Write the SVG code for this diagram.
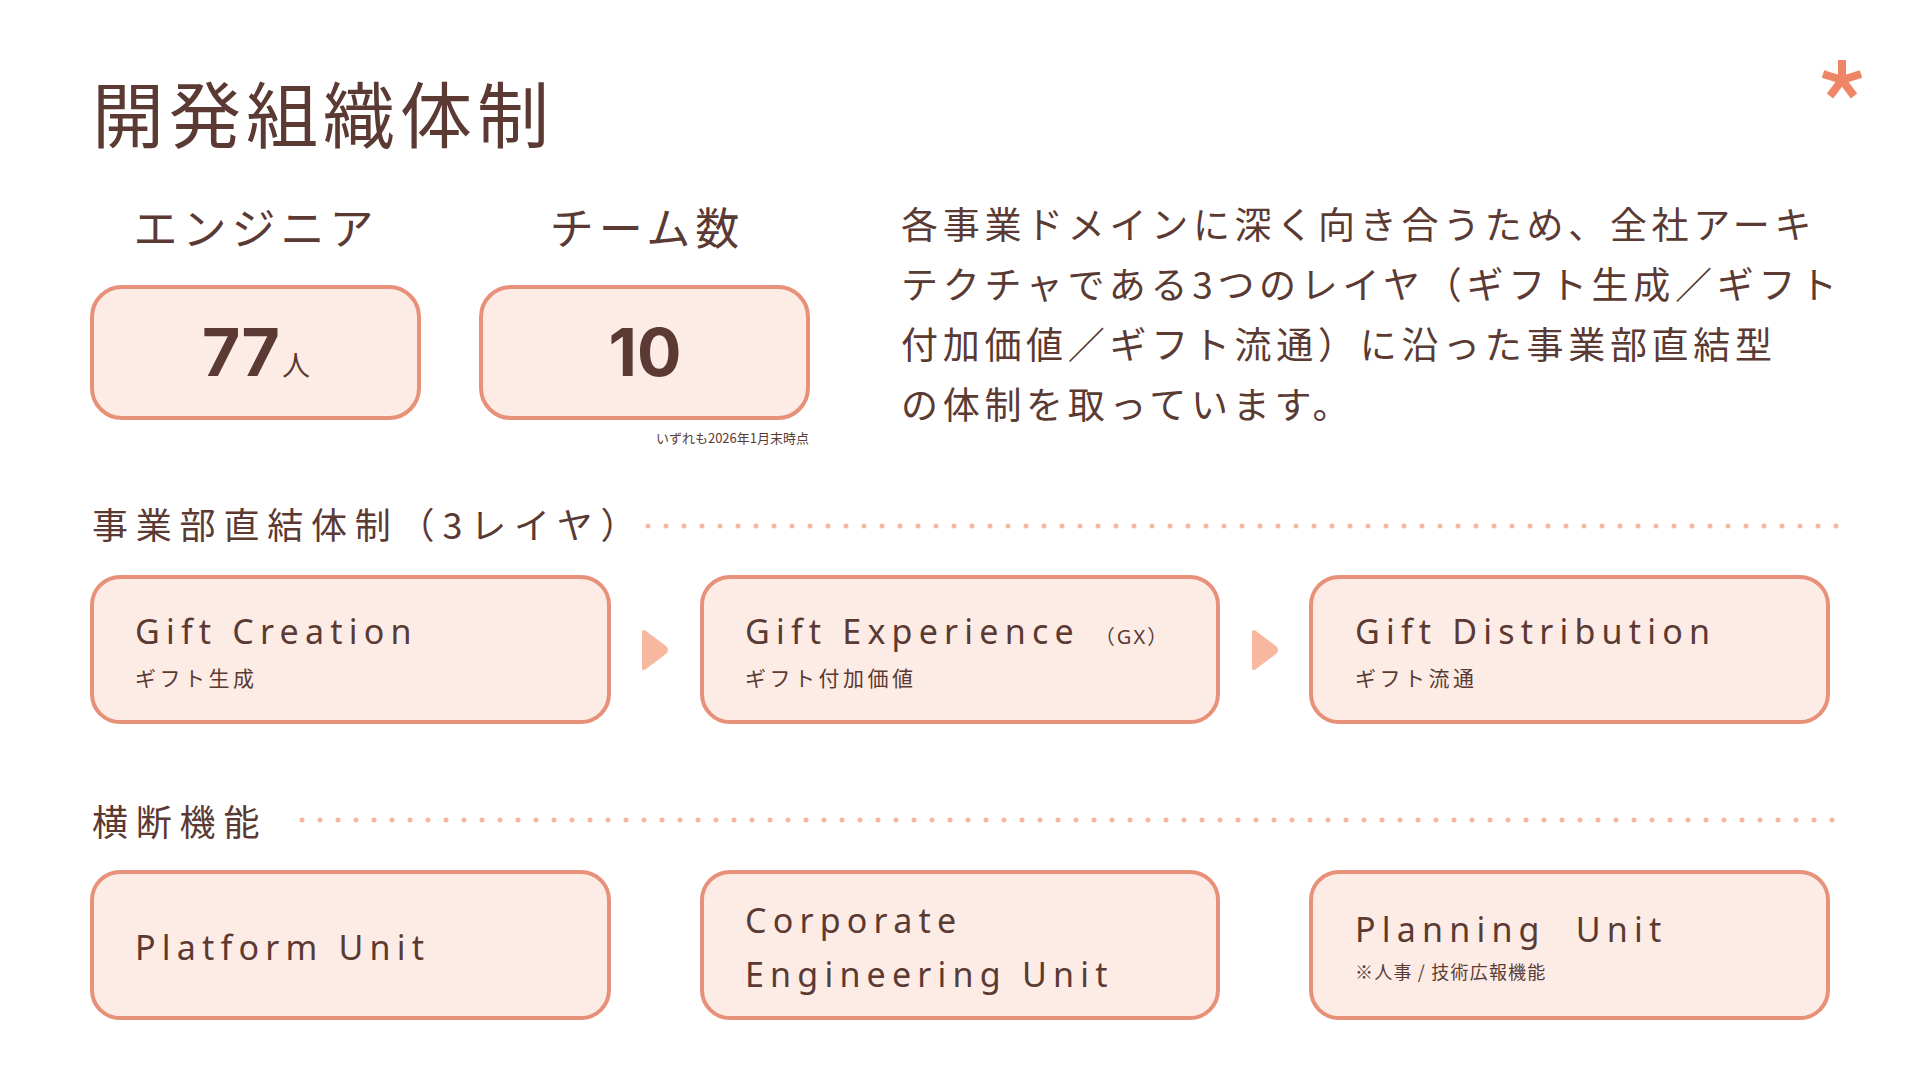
<svg xmlns="http://www.w3.org/2000/svg" width="1920" height="1080" viewBox="0 0 1920 1080">
  <style>
    .jp { font-family: "Noto Sans CJK JP", "Noto Sans", sans-serif; fill: #5A3A32; }
    .en { font-family: "Noto Sans", "Noto Sans CJK JP", sans-serif; fill: #5A3A32; }
    .num { font-family: Inter, "Noto Sans", sans-serif; font-weight: 700; fill: #5A3A32; }
    .box { fill: #FDECE6; stroke: #E8917A; stroke-width: 4; }
    .dots { stroke: #F3B7A2; stroke-width: 5; stroke-linecap: round; stroke-dasharray: 0 18; fill: none; }
    .arrow { fill: #F8B8A0; }
    .lbl { font-size: 34px; letter-spacing: 6.2px; }
    .sub { font-size: 21px; letter-spacing: 3.5px; }
  </style>
  <rect width="1920" height="1080" fill="#FFFFFF"/>

  <!-- asterisk logo -->
  <g id="logo" stroke="#EF8567" stroke-width="8" fill="none">
    <line x1="1842" y1="80" x2="1842" y2="60"/>
    <line x1="1842" y1="80" x2="1861" y2="74"/>
    <line x1="1842" y1="80" x2="1854" y2="96"/>
    <line x1="1842" y1="80" x2="1830" y2="96"/>
    <line x1="1842" y1="80" x2="1823" y2="74"/>
  </g>

  <g id="title">
    <text class="jp" x="92" y="142" font-size="72" letter-spacing="5">開発組織体制</text>
  </g>

  <g id="engineers">
    <text class="jp" x="256" y="245" font-size="44" letter-spacing="5" text-anchor="middle">エンジニア</text>
    <rect class="box" x="92" y="287" width="327" height="131" rx="30"/>
    <text x="256" y="376" text-anchor="middle"><tspan class="num" font-size="66">77</tspan><tspan class="jp" font-size="28" dx="2">人</tspan></text>
  </g>

  <g id="teams">
    <text class="jp" x="647" y="245" font-size="44" letter-spacing="5" text-anchor="middle">チーム数</text>
    <rect class="box" x="481" y="287" width="327" height="131" rx="30"/>
    <text class="num" x="645" y="376" font-size="66" text-anchor="middle">10</text>
  </g>

  <g id="note">
    <text class="jp" x="809" y="443" font-size="13" text-anchor="end">いずれも2026年1月末時点</text>
  </g>

  <g id="description" class="jp" font-size="37" letter-spacing="4.7">
    <text x="901" y="239">各事業ドメインに深く向き合うため、全社アーキ</text>
    <text x="901" y="299">テクチャである3つのレイヤ（ギフト生成／ギフト</text>
    <text x="901" y="359">付加価値／ギフト流通）に沿った事業部直結型</text>
    <text x="901" y="419">の体制を取っています。</text>
  </g>

  <g id="section1">
    <text class="jp" x="92" y="539" font-size="36" letter-spacing="7.8">事業部直結体制（3レイヤ）</text>
  </g>
  <g id="section2">
    <text class="jp" x="92" y="836" font-size="36" letter-spacing="7.8">横断機能</text>
  </g>

  <g id="gift-creation">
    <rect class="box" x="92" y="577" width="517" height="145" rx="28"/>
    <text class="en lbl" x="135" y="644">Gift Creation</text>
    <text class="jp sub" x="135" y="686">ギフト生成</text>
  </g>
  <g id="gift-experience">
    <rect class="box" x="702" y="577" width="516" height="145" rx="28"/>
    <text class="en lbl" x="745" y="644">Gift Experience <tspan font-size="20" letter-spacing="2">（GX）</tspan></text>
    <text class="jp sub" x="745" y="686">ギフト付加価値</text>
  </g>
  <g id="gift-distribution">
    <rect class="box" x="1311" y="577" width="517" height="145" rx="28"/>
    <text class="en lbl" x="1355" y="644">Gift Distribution</text>
    <text class="jp sub" x="1355" y="686">ギフト流通</text>
  </g>

  <g id="platform-unit">
    <rect class="box" x="92" y="872" width="517" height="146" rx="28"/>
    <text class="en lbl" x="135" y="960">Platform Unit</text>
  </g>
  <g id="corporate-engineering-unit">
    <rect class="box" x="702" y="872" width="516" height="146" rx="28"/>
    <text class="en lbl" x="745" y="933">Corporate</text>
    <text class="en lbl" x="745" y="987">Engineering Unit</text>
  </g>
  <g id="planning-unit">
    <rect class="box" x="1311" y="872" width="517" height="146" rx="28"/>
    <text class="en lbl" x="1355" y="942" xml:space="preserve">Planning  Unit</text>
    <text class="jp" x="1355" y="979" font-size="18" letter-spacing="1.2">※人事 / 技術広報機能</text>
  </g>

  <g id="connectors">
    <line class="dots" x1="648" y1="526" x2="1840" y2="526"/>
    <line class="dots" x1="302" y1="820" x2="1840" y2="820"/>
    <path class="arrow" d="M646,631 L666,646 Q670,650 666,654 L646,669 Q642,672 642,667 L642,633 Q642,628 646,631 Z"/>
    <path class="arrow" d="M1256,631 L1276,646 Q1280,650 1276,654 L1256,669 Q1252,672 1252,667 L1252,633 Q1252,628 1256,631 Z"/>
  </g>
</svg>
